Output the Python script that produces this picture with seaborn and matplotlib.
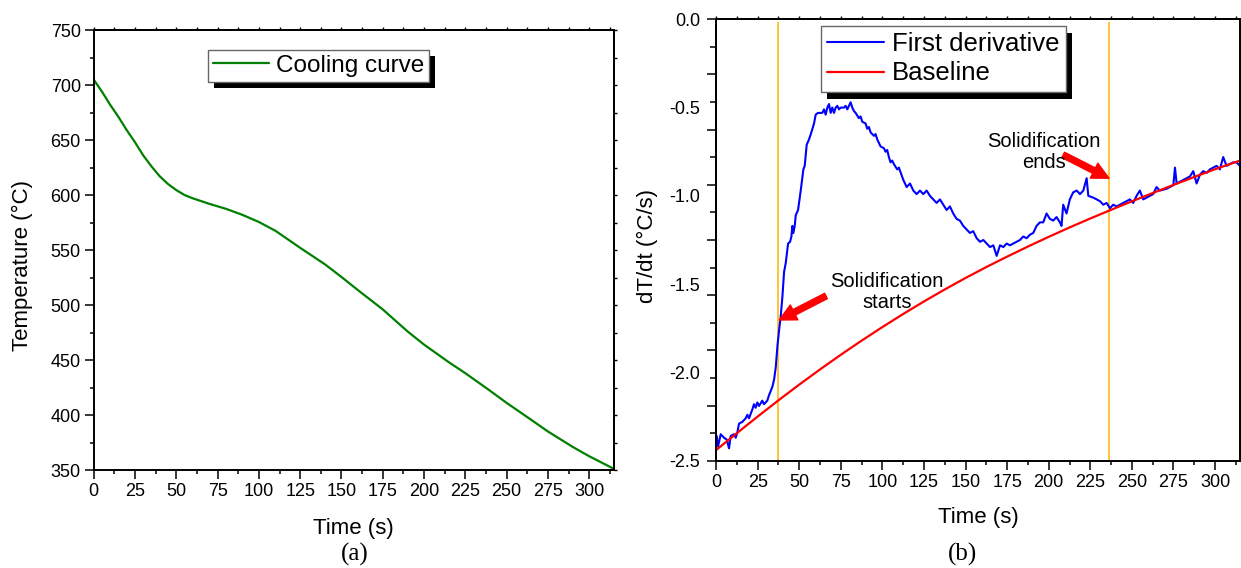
import matplotlib
matplotlib.use('Agg')
import matplotlib.pyplot as plt
import matplotlib.patches as mpatches
import numpy as np
import pandas as pd
import seaborn as sns

# (a) cooling curve
t_cool = [0, 5, 10, 15, 20, 25, 30, 35, 40, 45, 50, 55, 60, 70, 80, 90, 100, 110,
          125, 140, 150, 160, 175, 190, 200, 215, 225, 240, 250, 265, 275, 290, 300, 315]
temp_cool = [705, 694, 682, 671, 659, 648, 636, 626, 617, 610, 604.5, 600, 597, 592, 587.5,
             582, 575.5, 567.5, 552, 537, 525.5, 513.5, 496, 476, 464, 448, 438, 422, 411,
             395.5, 385, 371, 362.5, 351]

# (b) first derivative (noisy trace, read point by point)
t_deriv = [0.4, 1.2, 2.8, 4.8, 6.4, 7.8, 8.8, 10.8, 11.8, 12.8, 13.8, 15.8, 17.8, 18.8,
           19.8, 21.8, 22.8, 23.8, 24.8, 25.8, 27.8, 28.8, 30.8, 31.8, 33.9, 34.9, 35.9,
           36.9, 37.9, 38.9, 39.9, 40.9, 41.9, 43.3, 44.5, 45.3, 45.9, 46.5, 47.3, 47.9,
           49.3, 50.9, 52.5, 53.3, 54.5, 55.9, 57.3, 58.9, 59.9, 61.3, 63.9, 64.9, 65.9,
           66.9, 67.9, 68.9, 69.9, 70.9, 71.9, 72.9, 73.9, 74.9, 76.9, 77.9, 78.9, 80.9,
           81.9, 82.9, 83.9, 85.9, 86.9, 87.9, 89.9, 90.9, 91.9, 92.9, 94.9, 95.9, 96.9,
           98.9, 100.9, 101.9, 102.9, 103.9, 104.9, 105.9, 106.9, 108.9, 109.9,
           112.6, 114.6, 116.6, 118.6, 120.6, 122.6, 124.6, 126.6, 128.6, 130.6, 132.6,
           134.6, 136.6, 138.6, 140.6, 142.6, 144.6, 146.6, 148.6, 150.6, 152.6, 154.6,
           156.7, 158.7, 160.7, 162.7, 164.7, 166.7, 168.7, 170.7, 172.7, 174.7, 176.7,
           178.7, 180.7, 182.7, 184.7, 186.7, 188.7, 190.7, 192.7, 194.7, 196.7, 198.7,
           200.7, 202.7, 204.7, 206.7, 207.7, 208.7, 210.7, 212.7, 214.7, 216.8, 218.8,
           220.8, 222.8, 223.8, 226.8, 230.8, 232.8, 234.8, 236.8, 238.8, 240.8, 242.8,
           244.8, 246.8, 248.8, 250.8, 252.8, 254.8, 256.8, 258.8, 262.8, 264.8, 266.8,
           270.8, 274.9, 275.9, 276.9, 280.9, 284.9, 286.9, 288.9, 290.9, 292.9, 294.9,
           296.9, 298.9, 300.9, 302.9, 304.9, 306.9, 308.9, 310.9, 312.9, 314.9]
dTdt = [-2.36, -2.42, -2.35, -2.37, -2.38, -2.43, -2.36, -2.35, -2.37, -2.34, -2.29, -2.28,
        -2.26, -2.24, -2.26, -2.21, -2.18, -2.20, -2.17, -2.19, -2.16, -2.18, -2.16, -2.13,
        -2.08, -2.04, -1.97, -1.85, -1.76, -1.68, -1.57, -1.43, -1.38, -1.27, -1.26, -1.23,
        -1.17, -1.21, -1.17, -1.11, -1.08, -0.97, -0.85, -0.83, -0.71, -0.68, -0.64, -0.59,
        -0.54, -0.53, -0.53, -0.51, -0.54, -0.50, -0.48, -0.53, -0.50, -0.53, -0.50, -0.49,
        -0.51, -0.50, -0.50, -0.49, -0.51, -0.47, -0.50, -0.52, -0.53, -0.56, -0.55, -0.58,
        -0.59, -0.62, -0.61, -0.64, -0.66, -0.65, -0.68, -0.72, -0.73, -0.75, -0.74, -0.78,
        -0.81, -0.80, -0.82, -0.85, -0.84,
        -0.91, -0.95, -0.93, -0.97, -0.99, -0.97, -0.99, -0.97, -1.00, -1.02, -1.04,
        -1.02, -1.05, -1.08, -1.06, -1.10, -1.13, -1.14, -1.17, -1.19, -1.21, -1.20,
        -1.24, -1.26, -1.25, -1.27, -1.29, -1.28, -1.34, -1.28, -1.29, -1.27, -1.28,
        -1.27, -1.26, -1.25, -1.23, -1.24, -1.22, -1.21, -1.17, -1.15, -1.15, -1.10,
        -1.13, -1.14, -1.12, -1.15, -1.17, -1.05, -1.10, -1.02, -0.98, -0.97, -0.99,
        -0.97, -0.90, -1.00, -1.01, -1.03, -1.05, -1.04, -1.07, -1.05, -1.06, -1.05,
        -1.04, -1.03, -1.02, -1.04, -1.00, -0.97, -1.02, -1.01, -0.99, -0.95, -0.97,
        -0.96, -0.94, -0.84, -0.93, -0.91, -0.89, -0.86, -0.93, -0.88, -0.86, -0.87,
        -0.85, -0.84, -0.83, -0.85, -0.78, -0.83, -0.82, -0.81, -0.81, -0.83]

# (b) baseline
t_base = [0, 12.5, 25, 37.5, 50, 62.5, 75, 87.5, 100, 112.5, 125, 137.5, 150, 162.5,
          175, 187.5, 200, 212.5, 225, 237.5, 250, 262.5, 275, 287.5, 300, 315]
base = [-2.44, -2.344, -2.250, -2.158, -2.069, -1.983, -1.900, -1.820, -1.743, -1.669,
        -1.598, -1.530, -1.465, -1.403, -1.344, -1.287, -1.232, -1.179, -1.128, -1.079,
        -1.031, -0.984, -0.938, -0.893, -0.849, -0.800]

# solidification start / end times
t_events = [37.3, 236.4]

sns.set_style('ticks')
plt.rcParams['font.family'] = ['Liberation Sans', 'DejaVu Sans']
plt.rcParams['axes.linewidth'] = 1.4
for k in ['text.color', 'axes.labelcolor', 'xtick.color', 'ytick.color', 'axes.edgecolor']:
    plt.rcParams[k] = 'black'

df_cool = pd.DataFrame({'t': t_cool, 'T': temp_cool})
df_der = pd.DataFrame({'t': t_deriv, 'd': dTdt})
df_base = pd.DataFrame({'t': t_base, 'b': base})

fig = plt.figure(figsize=(12.41, 5.68), dpi=100)
ax1 = fig.add_axes([0.0755, 0.1725, 0.4193, 0.7746])
ax2 = fig.add_axes([0.577, 0.1889, 0.4222, 0.7771])

tick_fs = 13
lab_fs = 16

def shadow(ax, leg, dx, dy):
    fig.canvas.draw()
    bb = leg.get_frame().get_window_extent().transformed(ax.transAxes.inverted())
    w_px = ax.get_window_extent().width
    h_px = ax.get_window_extent().height
    r = mpatches.Rectangle((bb.x0 + dx / w_px, bb.y0 - dy / h_px), bb.width, bb.height,
                           transform=ax.transAxes, facecolor='black', edgecolor='none',
                           zorder=4.9, clip_on=False)
    ax.add_patch(r)

def small_ticks(ax, yticks, yminor):
    top = ax.secondary_xaxis('top')
    top.set_xticks(np.arange(0, 301, 25))
    top.set_xticks(np.arange(12.5, 315, 25), minor=True)
    top.tick_params(which='both', direction='out', length=2.5, width=1.0, labeltop=False)
    right = ax.secondary_yaxis('right')
    right.set_yticks(yticks)
    right.set_yticks(yminor, minor=True)
    right.tick_params(which='both', direction='out', length=2.5, width=1.0, labelright=False)
    for s in (top, right):
        for sp in s.spines.values():
            sp.set_linewidth(1.4)

# ---------- (a) ----------
sns.lineplot(data=df_cool, x='t', y='T', ax=ax1, color='#008000', linewidth=1.6,
             estimator=None, sort=False, label='Cooling curve')
ax1.set_xlim(0, 315)
ax1.set_ylim(350, 750)
ax1.set_xticks(np.arange(0, 301, 25))
ax1.set_xticks(np.arange(12.5, 315, 25), minor=True)
ax1.set_yticks(np.arange(350, 751, 50))
ax1.set_yticks(np.arange(375, 750, 50), minor=True)
ax1.tick_params(which='major', direction='out', length=6.3, width=1.1, labelsize=tick_fs, pad=3)
ax1.tick_params(which='minor', direction='out', length=3.2, width=1.1)
small_ticks(ax1, np.arange(350, 751, 50), np.arange(375, 750, 50))
ax1.set_xlabel('Time (s)', fontsize=lab_fs)
ax1.set_ylabel('Temperature (°C)', fontsize=lab_fs)
ax1.xaxis.set_label_coords(0.5, -0.108)
ax1.yaxis.set_label_coords(-0.1166, 0.464)
leg1 = ax1.legend(loc='upper left', bbox_to_anchor=(0.2197, 0.9545), borderaxespad=0,
                  fontsize=17.5, frameon=True, fancybox=False, framealpha=1,
                  edgecolor='#666666', handlelength=2.3, handletextpad=0.3, borderpad=0.2)
leg1.get_frame().set_linewidth(1.0)

# ---------- (b) ----------
sns.lineplot(data=df_der, x='t', y='d', ax=ax2, color='#0000FF', linewidth=1.5,
             estimator=None, sort=False, label='First derivative')
sns.lineplot(data=df_base, x='t', y='b', ax=ax2, color='#FF0000', linewidth=1.6,
             estimator=None, sort=False, label='Baseline')
ax2.vlines(t_events, -2.5, -0.015, colors='#FFB300', linewidth=1.1, zorder=1)
ax2.set_xlim(0, 315)
ax2.set_ylim(-2.5, 0)
ax2.set_xticks(np.arange(0, 301, 25))
ax2.set_xticks(np.arange(12.5, 315, 25), minor=True)
ax2.tick_params(axis='x', which='major', direction='out', length=6.3, width=1.1,
                labelsize=tick_fs, pad=3)
ax2.tick_params(axis='x', which='minor', direction='out', length=3.2, width=1.1)
ax2.set_yticks(np.arange(-2.5, 0.01, 0.5))
ax2.set_yticklabels(['-2.5', '-2.0', '-1.5', '-1.0', '-0.5', '0.0'])
ax2.tick_params(axis='y', which='major', length=0, labelsize=tick_fs, pad=11.3)
ax2.tick_params(axis='y', which='minor', length=0)
lft = ax2.secondary_yaxis('left')
lft.set_yticks(np.linspace(-2.5, 0, 9))
lft.set_yticks(np.linspace(-2.5, 0, 17)[1::2], minor=True)
lft.tick_params(which='major', direction='out', length=6.3, width=1.1, labelleft=False)
lft.tick_params(which='minor', direction='out', length=4.0, width=1.1)
lft.spines['left'].set_linewidth(1.4)
small_ticks(ax2, np.linspace(-2.5, 0, 9), np.linspace(-2.5, 0, 17)[1::2])
ax2.set_xlabel('Time (s)', fontsize=lab_fs)
ax2.set_ylabel('dT/dt (°C/s)', fontsize=lab_fs)
ax2.xaxis.set_label_coords(0.5, -0.106)
ax2.yaxis.set_label_coords(-0.1107, 0.486)
leg2 = ax2.legend(loc='upper left', bbox_to_anchor=(0.2004, 0.985), borderaxespad=0,
                  fontsize=18.5, frameon=True, fancybox=False, framealpha=1,
                  edgecolor='#666666', handlelength=2.2, handletextpad=0.3, borderpad=0.25,
                  labelspacing=0.2)
leg2.get_frame().set_linewidth(1.0)

arrow = dict(facecolor='#FF0000', edgecolor='#FF0000', width=4.3, headwidth=12,
             headlength=12, shrink=0)
ax2.annotate('', xy=(38.0, -1.703), xytext=(66.1, -1.567), arrowprops=arrow)
ax2.annotate('', xy=(236.2, -0.900), xytext=(208.7, -0.768), arrowprops=arrow)
ax2.text(102.8, -1.546, 'Solidification\nstarts', fontsize=14.5, ha='center', va='center',
         multialignment='center', linespacing=1.15)
ax2.text(197.2, -0.752, 'Solidification\nends', fontsize=14.5, ha='center', va='center',
         multialignment='center', linespacing=1.15)

fig.text(355 / 1241, 1 - 554 / 568, '(a)', fontsize=18, ha='center', va='center',
         family=['Liberation Serif', 'DejaVu Serif'])
fig.text(962.5 / 1241, 1 - 554 / 568, '(b)', fontsize=18, ha='center', va='center',
         family=['Liberation Serif', 'DejaVu Serif'])

shadow(ax1, leg1, 6, 6)
shadow(ax2, leg2, 6, 7)

fig.savefig('out.png', dpi=100)
